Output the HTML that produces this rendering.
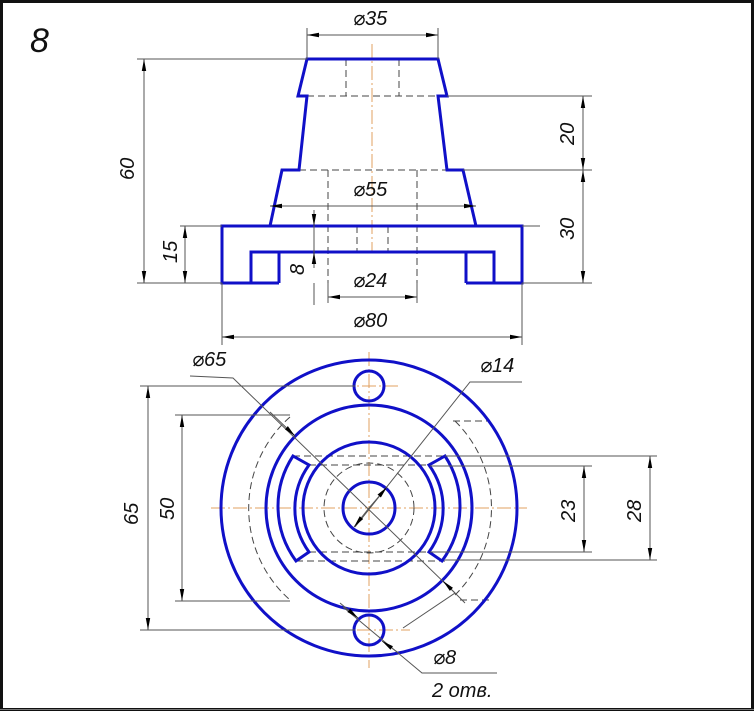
<!DOCTYPE html>
<html><head><meta charset="utf-8"><style>
html,body{margin:0;padding:0;background:#fff;}
svg{display:block;}
text{font-family:"Liberation Sans","DejaVu Sans",sans-serif;font-style:italic;font-size:20px;fill:#111;}
</style></head><body>
<svg width="754" height="711" viewBox="0 0 754 711" xmlns="http://www.w3.org/2000/svg">
<defs>
<marker id="a" viewBox="0 0 12 6" refX="12" refY="3" markerWidth="12" markerHeight="6" markerUnits="userSpaceOnUse" orient="auto-start-reverse"><path d="M0,0.8 L12,3 L0,5.2z" fill="#000"/></marker>
</defs>
<rect x="0" y="0" width="754" height="711" fill="#fff"/>
<rect x="1.5" y="1.5" width="751" height="708" fill="none" stroke="#111" stroke-width="3"/>
<line x1="0" y1="709.5" x2="754" y2="709.5" stroke="#777" stroke-width="1"/>
<text x="30" y="52" style="font-size:34px">8</text>

<!-- ===== FRONT VIEW ===== -->
<g stroke="#e0a060" stroke-width="1" stroke-dasharray="14,3,2,3">
<line x1="372" y1="44" x2="372" y2="252"/>
</g>
<g stroke="#444" stroke-width="1" fill="none" stroke-dasharray="7,4">
<line x1="346" y1="59" x2="346" y2="96"/><line x1="399" y1="59" x2="399" y2="96"/>
<line x1="307" y1="96" x2="438" y2="96"/>
<line x1="299" y1="170" x2="447" y2="170"/>
<line x1="328" y1="170" x2="328" y2="283"/><line x1="417" y1="170" x2="417" y2="283"/>
<line x1="357" y1="226" x2="357" y2="252"/><line x1="388" y1="226" x2="388" y2="252"/>
</g>
<g stroke="#1010c8" stroke-width="3" fill="none" stroke-linejoin="miter">
<path d="M307,59 L438,59 L447,96 L438,96 L447,170 L463,170 L476,226 L270,226 L282,170 L299,170 L307,96 L298,96 Z"/>
<path d="M279,283 L222,283 L222,226 L522,226 L522,283 L466,283"/>
<path d="M251,283 L251,252 L494,252 L494,283"/>
<path d="M279,283 L279,252 M466,283 L466,252 M466,283 L494,283 M251,283 L279,283"/>
</g>
<g stroke="#555" stroke-width="1" fill="none">
<line x1="307" y1="28" x2="307" y2="59"/><line x1="438" y1="28" x2="438" y2="59"/>
<line x1="137" y1="59" x2="307" y2="59"/>
<line x1="137" y1="283" x2="222" y2="283"/>
<line x1="180" y1="226" x2="222" y2="226"/>
<line x1="447" y1="96" x2="592" y2="96"/>
<line x1="463" y1="170" x2="592" y2="170"/>
<line x1="522" y1="283" x2="592" y2="283"/>
<line x1="522" y1="226" x2="540" y2="226"/>
<line x1="328" y1="283" x2="328" y2="303"/><line x1="417" y1="283" x2="417" y2="303"/>
<line x1="222" y1="283" x2="222" y2="345"/><line x1="522" y1="283" x2="522" y2="345"/>
<line x1="307" y1="35" x2="438" y2="35" marker-start="url(#a)" marker-end="url(#a)"/>
<line x1="270" y1="206" x2="476" y2="206" marker-start="url(#a)" marker-end="url(#a)"/>
<line x1="328" y1="297" x2="417" y2="297" marker-start="url(#a)" marker-end="url(#a)"/>
<line x1="222" y1="337" x2="522" y2="337" marker-start="url(#a)" marker-end="url(#a)"/>
<line x1="144" y1="59" x2="144" y2="283" marker-start="url(#a)" marker-end="url(#a)"/>
<line x1="185" y1="226" x2="185" y2="283" marker-start="url(#a)" marker-end="url(#a)"/>
<line x1="583" y1="96" x2="583" y2="170" marker-start="url(#a)" marker-end="url(#a)"/>
<line x1="583" y1="170" x2="583" y2="283" marker-start="url(#a)" marker-end="url(#a)"/>
<line x1="314" y1="210" x2="314" y2="226" marker-end="url(#a)"/>
<line x1="314" y1="268" x2="314" y2="252" marker-end="url(#a)"/>
<line x1="314" y1="226" x2="314" y2="252"/>
<line x1="314" y1="283" x2="314" y2="305"/>
</g>
<text x="353" y="25">⌀35</text>
<text x="353" y="196">⌀55</text>
<text x="353" y="287">⌀24</text>
<text x="353" y="327">⌀80</text>
<text transform="translate(134,180) rotate(-90)">60</text>
<text transform="translate(177,263) rotate(-90)">15</text>
<text transform="translate(574,145) rotate(-90)">20</text>
<text transform="translate(574,240) rotate(-90)">30</text>
<text transform="translate(304,275) rotate(-90)">8</text>

<!-- ===== TOP VIEW ===== -->
<g stroke="#e0a060" stroke-width="1" stroke-dasharray="14,3,2,3" fill="none">
<line x1="369" y1="352" x2="369" y2="668"/>
<line x1="211" y1="508" x2="527" y2="508"/>
<line x1="340" y1="386" x2="398" y2="386"/>
<line x1="335" y1="630" x2="410" y2="630"/>
</g>
<g stroke="#444" stroke-width="1" fill="none" stroke-dasharray="7,4">
<circle cx="369" cy="508" r="45"/>
<path d="M290,417 A122,122 0 0 0 290,600"/>
<path d="M455,421 A122,122 0 0 1 455,595"/>
<line x1="453" y1="421" x2="488" y2="421"/>
<line x1="460" y1="600" x2="490" y2="600"/>
<line x1="293" y1="456" x2="445" y2="456"/><line x1="309" y1="465" x2="430" y2="465"/>
<line x1="309" y1="552" x2="430" y2="552"/><line x1="296" y1="561" x2="445" y2="561"/>
</g>
<g stroke="#1010c8" stroke-width="3" fill="none">
<circle cx="369" cy="508" r="148"/>
<circle cx="369" cy="508" r="103"/>
<circle cx="369" cy="508" r="66"/>
<circle cx="369" cy="508" r="26"/>
<circle cx="369" cy="386" r="15"/>
<circle cx="369" cy="630" r="15"/>
<path d="M293,456 L309,465 A74,74 0 0 0 309,552 L296,561 A92,92 0 0 1 293,456 Z"/>
<path d="M445,456 L429,465 A74,74 0 0 1 429,552 L442,561 A92,92 0 0 0 445,456 Z"/>
</g>
<g stroke="#555" stroke-width="1" fill="none">
<line x1="140" y1="386" x2="355" y2="386"/>
<line x1="140" y1="630" x2="355" y2="630"/>
<line x1="175" y1="415" x2="290" y2="415"/>
<line x1="175" y1="601" x2="290" y2="601"/>
<line x1="445" y1="456" x2="657" y2="456"/>
<line x1="430" y1="466" x2="592" y2="466"/>
<line x1="430" y1="552" x2="592" y2="552"/>
<line x1="445" y1="560" x2="657" y2="560"/>
<line x1="148" y1="386" x2="148" y2="630" marker-start="url(#a)" marker-end="url(#a)"/>
<line x1="182" y1="415" x2="182" y2="601" marker-start="url(#a)" marker-end="url(#a)"/>
<line x1="584" y1="466" x2="584" y2="552" marker-start="url(#a)" marker-end="url(#a)"/>
<line x1="650" y1="456" x2="650" y2="560" marker-start="url(#a)" marker-end="url(#a)"/>
<polyline points="190,376 233,378 455,593 403,628"/>
<line x1="270" y1="412" x2="295" y2="436" marker-end="url(#a)"/>
<line x1="465" y1="603" x2="443" y2="581" marker-end="url(#a)"/>
<polyline points="522,382 470,382 355,527"/>
<line x1="369" y1="508" x2="387" y2="487" marker-end="url(#a)"/>
<line x1="369" y1="508" x2="354" y2="527" marker-end="url(#a)"/>
<polyline points="343,607 422,673 497,673"/>
<line x1="340" y1="603" x2="358" y2="618" marker-end="url(#a)"/>
<line x1="400" y1="654" x2="382" y2="641" marker-end="url(#a)"/>
</g>
<text x="192" y="366">⌀65</text>
<text x="480" y="372">⌀14</text>
<text x="433" y="664">⌀8</text>
<text x="432" y="697">2 отв.</text>
<text transform="translate(138,525) rotate(-90)">65</text>
<text transform="translate(174,520) rotate(-90)">50</text>
<text transform="translate(575,522) rotate(-90)">23</text>
<text transform="translate(641,522) rotate(-90)">28</text>
</svg>
</body></html>
